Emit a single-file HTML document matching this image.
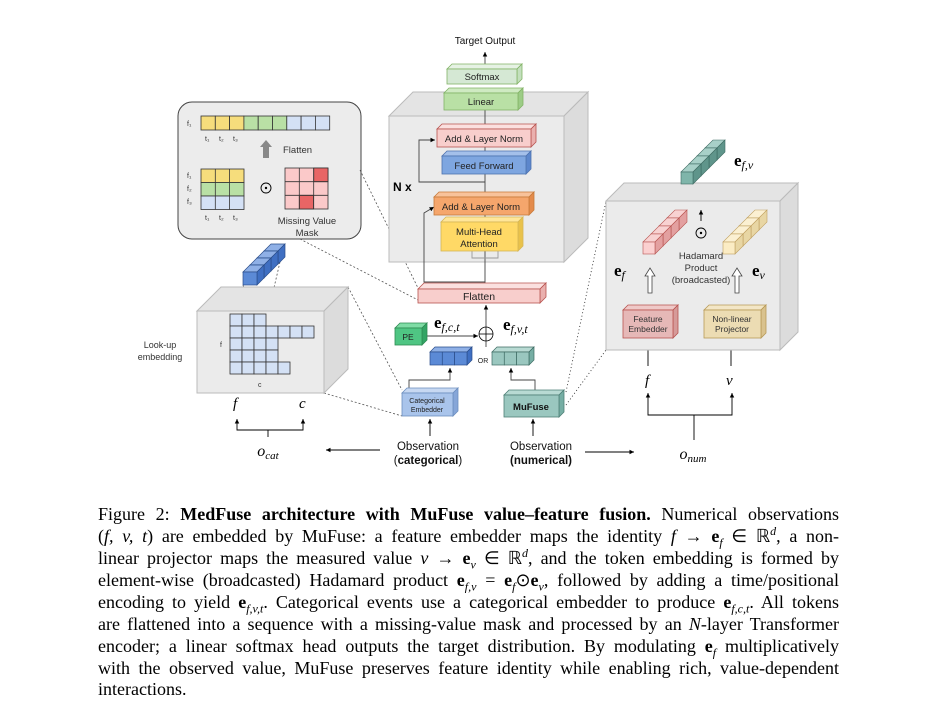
<!DOCTYPE html>
<html><head><meta charset="utf-8"><style>
body{margin:0;background:#fff;width:935px;height:716px;overflow:hidden;position:relative}
svg{position:absolute;left:0;top:0}
.cap{position:absolute;left:98px;width:741px;font-family:"Liberation Serif",serif;font-size:18px;line-height:22px;height:22px;text-align:justify;text-align-last:justify;white-space:nowrap;color:#000}
.cap.last{text-align-last:left}
.cap i{font-style:italic}
sub,sup{font-size:12px;line-height:0}
</style></head><body>
<svg width="935" height="716" viewBox="0 0 935 716" font-family="Liberation Sans, sans-serif">
<defs>
<marker id="a" markerWidth="6" markerHeight="6" refX="5" refY="3" orient="auto"><path d="M0,0.5 L5,3 L0,5.5z" fill="#000"/></marker>
</defs>
<rect x="178" y="102" width="183" height="137" rx="14" fill="#ececec" stroke="#444" stroke-width="1"/>
<g stroke="#333" stroke-width="0.8">
<rect x="201" y="116" width="14.3" height="14" fill="#f6dd7c"/><rect x="215.3" y="116" width="14.3" height="14" fill="#f6dd7c"/><rect x="229.6" y="116" width="14.3" height="14" fill="#f6dd7c"/>
<rect x="243.9" y="116" width="14.3" height="14" fill="#b9e0a5"/><rect x="258.2" y="116" width="14.3" height="14" fill="#b9e0a5"/><rect x="272.5" y="116" width="14.3" height="14" fill="#b9e0a5"/>
<rect x="286.8" y="116" width="14.3" height="14" fill="#d4e1f5"/><rect x="301.1" y="116" width="14.3" height="14" fill="#d4e1f5"/><rect x="315.4" y="116" width="14.3" height="14" fill="#d4e1f5"/>
<rect x="201" y="169" width="43" height="13.5" fill="#f6dd7c"/><rect x="201" y="182.5" width="43" height="13.5" fill="#b9e0a5"/><rect x="201" y="196" width="43" height="13.5" fill="#d4e1f5"/>
<line x1="215.3" y1="169" x2="215.3" y2="209.5"/><line x1="229.6" y1="169" x2="229.6" y2="209.5"/>
<rect x="285" y="168" width="43" height="41" fill="#fbc9c9"/>
<rect x="313.7" y="168" width="14.3" height="13.7" fill="#e86565"/><rect x="299.3" y="195.3" width="14.3" height="13.7" fill="#e86565"/>
<line x1="299.3" y1="168" x2="299.3" y2="209"/><line x1="313.7" y1="168" x2="313.7" y2="209"/><line x1="285" y1="181.7" x2="328" y2="181.7"/><line x1="285" y1="195.3" x2="328" y2="195.3"/>
</g>
<g font-size="7" fill="#333">
<text x="187" y="126">f₁</text><text x="205" y="141">t₁</text><text x="219" y="141">t₂</text><text x="233" y="141">t₃</text>
<text x="187" y="178">f₁</text><text x="187" y="191">f₂</text><text x="187" y="204">f₃</text>
<text x="205" y="220">t₁</text><text x="219" y="220">t₂</text><text x="233" y="220">t₃</text>
</g>
<path d="M263,158 V147 H260 L266,140 L272,147 H269 V158z" fill="#888"/>
<text x="283" y="153" font-size="9.5" fill="#333">Flatten</text>
<circle cx="266" cy="188" r="5" fill="none" stroke="#000" stroke-width="0.9"/><circle cx="266" cy="188" r="1.2"/>
<text x="307" y="224" font-size="9.5" fill="#333" text-anchor="middle">Missing Value</text>
<text x="307" y="236" font-size="9.5" fill="#333" text-anchor="middle">Mask</text>
<g stroke="#555" stroke-width="0.8" stroke-dasharray="2,2" fill="none">
<line x1="360" y1="170" x2="418" y2="288"/><line x1="300" y1="239" x2="418" y2="300"/>
<line x1="348" y1="287" x2="402" y2="390"/><line x1="324" y1="393" x2="402" y2="416"/>
<line x1="243" y1="285" x2="259" y2="343"/><line x1="280" y1="262" x2="261" y2="343"/>
</g>
<g stroke="#333" stroke-width="0.9" stroke-dasharray="1,2.5" fill="none">
<line x1="566" y1="392" x2="606" y2="201"/><line x1="566" y1="405" x2="606" y2="350"/>
</g>
<polygon points="197,311 221,287 348,287 324,311" fill="#e4e4e4" stroke="#bbb"/>
<polygon points="324,311 348,287 348,369 324,393" fill="#dcdcdc" stroke="#bbb"/>
<rect x="197" y="311" width="127" height="82" fill="#ebebeb" stroke="#bbb"/>
<g fill="#d4e1f5" stroke="#333" stroke-width="0.8">
<rect x="230" y="314" width="12" height="12"/><rect x="242" y="314" width="12" height="12"/><rect x="254" y="314" width="12" height="12"/>
<rect x="230" y="326" width="12" height="12"/><rect x="242" y="326" width="12" height="12"/><rect x="254" y="326" width="12" height="12"/><rect x="266" y="326" width="12" height="12"/><rect x="278" y="326" width="12" height="12"/><rect x="290" y="326" width="12" height="12"/><rect x="302" y="326" width="12" height="12"/>
<rect x="230" y="338" width="12" height="12"/><rect x="242" y="338" width="12" height="12"/><rect x="254" y="338" width="12" height="12"/><rect x="266" y="338" width="12" height="12"/>
<rect x="230" y="350" width="12" height="12"/><rect x="242" y="350" width="12" height="12"/><rect x="254" y="350" width="12" height="12"/><rect x="266" y="350" width="12" height="12"/>
<rect x="230" y="362" width="12" height="12"/><rect x="242" y="362" width="12" height="12"/><rect x="254" y="362" width="12" height="12"/><rect x="266" y="362" width="12" height="12"/><rect x="278" y="362" width="12" height="12"/>
</g>
<text x="220" y="347" font-size="7" fill="#333">f</text><text x="258" y="387" font-size="7" fill="#333">c</text>
<text x="160" y="348" font-size="9" fill="#333" text-anchor="middle">Look-up</text>
<text x="160" y="360" font-size="9" fill="#333" text-anchor="middle">embedding</text>
<g stroke="#2a4d8a" stroke-width="0.7">
<g transform="translate(21,-21)"><polygon points="243,272 250,265 264,265 257,272" fill="#8fb0e6"/><polygon points="257,272 264,265 264,278 257,285" fill="#3f6fc2"/><rect x="243" y="272" width="14" height="13" fill="#5b8ad6"/></g>
<g transform="translate(14,-14)"><polygon points="243,272 250,265 264,265 257,272" fill="#8fb0e6"/><polygon points="257,272 264,265 264,278 257,285" fill="#3f6fc2"/><rect x="243" y="272" width="14" height="13" fill="#5b8ad6"/></g>
<g transform="translate(7,-7)"><polygon points="243,272 250,265 264,265 257,272" fill="#8fb0e6"/><polygon points="257,272 264,265 264,278 257,285" fill="#3f6fc2"/><rect x="243" y="272" width="14" height="13" fill="#5b8ad6"/></g>
<g><polygon points="243,272 250,265 264,265 257,272" fill="#8fb0e6"/><polygon points="257,272 264,265 264,278 257,285" fill="#3f6fc2"/><rect x="243" y="272" width="14" height="13" fill="#5b8ad6"/></g>
</g>
<g font-family="Liberation Serif, serif" font-style="italic" font-size="15"><text x="233" y="408">f</text><text x="299" y="408">c</text></g>
<g stroke="#000" stroke-width="0.9" fill="none">
<polyline points="268,437 268,430 237,430 237,419" marker-end="url(#a)"/><polyline points="268,430 303,430 303,419" marker-end="url(#a)"/>
<line x1="380" y1="450" x2="326" y2="450" marker-end="url(#a)"/>
<line x1="585" y1="452" x2="634" y2="452" marker-end="url(#a)"/>
<polyline points="694,440 694,415 648,415 648,393" marker-end="url(#a)"/><polyline points="694,415 732,415 732,393" marker-end="url(#a)"/>
<line x1="648" y1="366" x2="648" y2="341" marker-end="url(#a)"/><line x1="731" y1="366" x2="731" y2="341" marker-end="url(#a)"/>
<line x1="430" y1="436" x2="430" y2="419" marker-end="url(#a)"/><line x1="533" y1="436" x2="533" y2="419" marker-end="url(#a)"/>
</g>
<text x="268" y="456" font-family="Liberation Serif, serif" font-style="italic" font-size="16" text-anchor="middle">o<tspan font-size="11" dy="3">cat</tspan></text>
<text x="693" y="459" font-family="Liberation Serif, serif" font-style="italic" font-size="16" text-anchor="middle">o<tspan font-size="11" dy="3">num</tspan></text>
<g font-size="11.5" text-anchor="middle" fill="#111">
<text x="428" y="450">Observation</text><text x="428" y="464">(<tspan font-weight="bold">categorical</tspan>)</text>
<text x="541" y="450">Observation</text><text x="541" y="464" font-weight="bold">(numerical)</text>
</g>
<polygon points="389,116 413,92 588,92 564,116" fill="#e4e4e4" stroke="#bbb"/>
<polygon points="564,116 588,92 588,238 564,262" fill="#dcdcdc" stroke="#bbb"/>
<rect x="389" y="116" width="175" height="146" fill="#ebebeb" stroke="#bbb"/>
<g stroke="#444" stroke-width="0.9" fill="none">
<line x1="485" y1="289" x2="485" y2="110"/>
<polyline points="485,282 424,282 424,213 434,207" marker-end="url(#a)"/>
<polyline points="485,182 419,182 419,140 435,140" marker-end="url(#a)"/>
<polyline points="472,251 472,258 498,258 498,251" stroke="#999"/>
<line x1="485" y1="69" x2="485" y2="52" marker-end="url(#a)"/>
<line x1="486" y1="347" x2="486" y2="305" marker-end="url(#a)"/>
<line x1="422" y1="336" x2="478" y2="336" marker-end="url(#a)"/>
<polyline points="409,392 409,380 450,380 450,368" marker-end="url(#a)"/>
<polyline points="535,394 535,380 511,380 511,368" marker-end="url(#a)"/>
</g>
<text x="485" y="44" font-size="10" text-anchor="middle" fill="#111">Target Output</text>
<text x="393" y="191" font-size="12" font-weight="bold">N x</text>
<g stroke-width="0.8">
<polygon points="447,69 452,64 522,64 517,69" fill="#e6f2e4" stroke="#82b366"/><polygon points="517,69 522,64 522,79 517,84" fill="#c3dfbd" stroke="#82b366"/><rect x="447" y="69" width="70" height="15" fill="#d5e8d4" stroke="#82b366"/>
<polygon points="444,93 449,88 523,88 518,93" fill="#cfeac2" stroke="#82b366"/><polygon points="518,93 523,88 523,105 518,110" fill="#9ccc86" stroke="#82b366"/><rect x="444" y="93" width="74" height="17" fill="#b9e0a5" stroke="#82b366"/>
<polygon points="437,129 442,124 536,124 531,129" fill="#fbe0df" stroke="#b85450"/><polygon points="531,129 536,124 536,142 531,147" fill="#eab0ae" stroke="#b85450"/><rect x="437" y="129" width="94" height="18" fill="#f8cecc" stroke="#b85450"/>
<polygon points="442,156 447,151 531,151 526,156" fill="#a4c0ea" stroke="#4e73b0"/><polygon points="526,156 531,151 531,169 526,174" fill="#5c87cc" stroke="#4e73b0"/><rect x="442" y="156" width="84" height="18" fill="#7ea6e0" stroke="#4e73b0"/>
<polygon points="434,197 439,192 534,192 529,197" fill="#f8c29a" stroke="#c77b3a"/><polygon points="529,197 534,192 534,210 529,215" fill="#e48b4c" stroke="#c77b3a"/><rect x="434" y="197" width="95" height="18" fill="#f5a66c" stroke="#c77b3a"/>
<polygon points="441,222 446,217 523,217 518,222" fill="#ffe699" stroke="#d6b656"/><polygon points="518,222 523,217 523,246 518,251" fill="#e9c24b" stroke="#d6b656"/><rect x="441" y="222" width="77" height="29" fill="#ffd966" stroke="#d6b656"/>
<polygon points="418,289 424,283 546,283 540,289" fill="#fbe0df" stroke="#b85450"/><polygon points="540,289 546,283 546,297 540,303" fill="#eab0ae" stroke="#b85450"/><rect x="418" y="289" width="122" height="14" fill="#f8cecc" stroke="#b85450"/>
<polygon points="395,328 400,323 427,323 422,328" fill="#7fdca5" stroke="#2d8a52"/><polygon points="422,328 427,323 427,340 422,345" fill="#33a565" stroke="#2d8a52"/><rect x="395" y="328" width="27" height="17" fill="#4fc583" stroke="#2d8a52"/>
<polygon points="402,393 407,388 458,388 453,393" fill="#c7d8f2" stroke="#6c8ebf"/><polygon points="453,393 458,388 458,411 453,416" fill="#86a6d8" stroke="#6c8ebf"/><rect x="402" y="393" width="51" height="23" fill="#a9c4eb" stroke="#6c8ebf"/>
<polygon points="504,395 509,390 564,390 559,395" fill="#b8dad3" stroke="#4f8077"/><polygon points="559,395 564,390 564,412 559,417" fill="#76aea4" stroke="#4f8077"/><rect x="504" y="395" width="55" height="22" fill="#9ac7bf" stroke="#4f8077"/>
</g>
<g font-size="9.5" text-anchor="middle" fill="#222">
<text x="482" y="80">Softmax</text><text x="481" y="105">Linear</text>
<text x="484" y="142">Add &amp; Layer Norm</text><text x="484" y="169">Feed Forward</text>
<text x="481" y="210">Add &amp; Layer Norm</text>
<text x="479" y="235">Multi-Head</text><text x="479" y="247">Attention</text>
<text x="479" y="300" font-size="10.5">Flatten</text>
<text x="408" y="340" font-size="8.5">PE</text>
<text x="427" y="403" font-size="7">Categorical</text><text x="427" y="412" font-size="7">Embedder</text>
<text x="531" y="410" font-size="9.5" font-weight="bold" fill="#111">MuFuse</text>
<text x="483" y="363" font-size="7">OR</text>
</g>
<circle cx="486" cy="334" r="7" fill="#fff" stroke="#000" stroke-width="0.8"/><line x1="479" y1="334" x2="493" y2="334" stroke="#000" stroke-width="0.8"/><line x1="486" y1="327" x2="486" y2="341" stroke="#000" stroke-width="0.8"/>
<g font-family="Liberation Serif, serif" font-size="17">
<text x="434" y="328" font-weight="bold">e<tspan font-weight="normal" font-style="italic" font-size="12" dy="3">f,c,t</tspan></text>
<text x="503" y="330" font-weight="bold">e<tspan font-weight="normal" font-style="italic" font-size="12" dy="3">f,v,t</tspan></text>
</g>
<g stroke="#2a4d8a" stroke-width="0.7">
<polygon points="430,352 435,347 472,347 467,352" fill="#8fb0e6"/><polygon points="467,352 472,347 472,360 467,365" fill="#3f6fc2"/>
<rect x="430" y="352" width="12.3" height="13" fill="#5b8ad6"/><rect x="442.3" y="352" width="12.3" height="13" fill="#5b8ad6"/><rect x="454.6" y="352" width="12.4" height="13" fill="#5b8ad6"/>
</g>
<g stroke="#3d6b63" stroke-width="0.7">
<polygon points="492,352 497,347 534,347 529,352" fill="#b8dad3"/><polygon points="529,352 534,347 534,360 529,365" fill="#76aea4"/>
<rect x="492" y="352" width="12.3" height="13" fill="#9ac7bf"/><rect x="504.3" y="352" width="12.3" height="13" fill="#9ac7bf"/><rect x="516.6" y="352" width="12.4" height="13" fill="#9ac7bf"/>
</g>
<polygon points="606,201 624,183 798,183 780,201" fill="#e4e4e4" stroke="#bbb"/>
<polygon points="780,201 798,183 798,332 780,350" fill="#dcdcdc" stroke="#bbb"/>
<rect x="606" y="201" width="174" height="149" fill="#ebebeb" stroke="#bbb"/>
<g stroke-width="0.8">
<polygon points="623,310 628,305 678,305 673,310" fill="#efc9c8" stroke="#b85450"/><polygon points="673,310 678,305 678,333 673,338" fill="#d69a99" stroke="#b85450"/><rect x="623" y="310" width="50" height="28" fill="#e6b8b7" stroke="#b85450"/>
<polygon points="704,310 709,305 766,305 761,310" fill="#f3e6c6" stroke="#b89a58"/><polygon points="761,310 766,305 766,333 761,338" fill="#d9c28e" stroke="#b89a58"/><rect x="704" y="310" width="57" height="28" fill="#ecdcb3" stroke="#b89a58"/>
</g>
<g font-size="8.5" text-anchor="middle" fill="#333">
<text x="648" y="322">Feature</text><text x="648" y="332">Embedder</text>
<text x="732" y="322">Non-linear</text><text x="732" y="332">Projector</text>
<text x="701" y="259" font-size="9.5">Hadamard</text><text x="701" y="271" font-size="9.5">Product</text><text x="701" y="283" font-size="9.5">(broadcasted)</text>
</g>
<g font-family="Liberation Serif, serif" font-style="italic" font-size="15"><text x="645" y="385">f</text><text x="726" y="385">v</text></g>
<path d="M648,293 V276 H645 L650,268 L655,276 H652 V293z" fill="#fff" stroke="#444" stroke-width="0.8"/>
<path d="M735,293 V276 H732 L737,268 L742,276 H739 V293z" fill="#fff" stroke="#444" stroke-width="0.8"/>
<line x1="701" y1="221" x2="701" y2="210" stroke="#000" stroke-width="0.9" marker-end="url(#a)"/>
<circle cx="701" cy="233" r="5" fill="none" stroke="#000" stroke-width="0.9"/><circle cx="701" cy="233" r="1.2"/>
<g font-family="Liberation Serif, serif" font-size="17" font-weight="bold">
<text x="614" y="276">e<tspan font-weight="normal" font-style="italic" font-size="12" dy="3">f</tspan></text>
<text x="752" y="276">e<tspan font-weight="normal" font-style="italic" font-size="12" dy="3">v</tspan></text>
<text x="734" y="166">e<tspan font-weight="normal" font-style="italic" font-size="12" dy="3">f,v</tspan></text>
</g>
<g stroke="#b85450" stroke-width="0.6">
<g transform="translate(24,-24)"><polygon points="643,242 651,234 663,234 655,242" fill="#f8d2d2"/><polygon points="655,242 663,234 663,246 655,254" fill="#e3a0a0"/><rect x="643" y="242" width="12" height="12" fill="#f5b8b8"/></g>
<g transform="translate(16,-16)"><polygon points="643,242 651,234 663,234 655,242" fill="#f8d2d2"/><polygon points="655,242 663,234 663,246 655,254" fill="#e3a0a0"/><rect x="643" y="242" width="12" height="12" fill="#f5b8b8"/></g>
<g transform="translate(8,-8)"><polygon points="643,242 651,234 663,234 655,242" fill="#f8d2d2"/><polygon points="655,242 663,234 663,246 655,254" fill="#e3a0a0"/><rect x="643" y="242" width="12" height="12" fill="#f5b8b8"/></g>
<g><polygon points="643,242 651,234 663,234 655,242" fill="#f8d2d2"/><polygon points="655,242 663,234 663,246 655,254" fill="#e3a0a0"/><rect x="643" y="242" width="12" height="12" fill="#fbd0d0"/></g>
</g>
<g stroke="#c0a060" stroke-width="0.6">
<g transform="translate(24,-24)"><polygon points="723,242 731,234 743,234 735,242" fill="#fbf0d2"/><polygon points="735,242 743,234 743,246 735,254" fill="#e8d6a4"/><rect x="723" y="242" width="12" height="12" fill="#f8e6b8"/></g>
<g transform="translate(16,-16)"><polygon points="723,242 731,234 743,234 735,242" fill="#fbf0d2"/><polygon points="735,242 743,234 743,246 735,254" fill="#e8d6a4"/><rect x="723" y="242" width="12" height="12" fill="#f8e6b8"/></g>
<g transform="translate(8,-8)"><polygon points="723,242 731,234 743,234 735,242" fill="#fbf0d2"/><polygon points="735,242 743,234 743,246 735,254" fill="#e8d6a4"/><rect x="723" y="242" width="12" height="12" fill="#f8e6b8"/></g>
<g><polygon points="723,242 731,234 743,234 735,242" fill="#fbf0d2"/><polygon points="735,242 743,234 743,246 735,254" fill="#e8d6a4"/><rect x="723" y="242" width="12" height="12" fill="#fbecc4"/></g>
</g>
<g stroke="#3d6b63" stroke-width="0.6">
<g transform="translate(24,-24)"><polygon points="681,172 689,164 701,164 693,172" fill="#a8d0c8"/><polygon points="693,172 701,164 701,176 693,184" fill="#5f958b"/><rect x="681" y="172" width="12" height="12" fill="#7fb5aa"/></g>
<g transform="translate(16,-16)"><polygon points="681,172 689,164 701,164 693,172" fill="#a8d0c8"/><polygon points="693,172 701,164 701,176 693,184" fill="#5f958b"/><rect x="681" y="172" width="12" height="12" fill="#7fb5aa"/></g>
<g transform="translate(8,-8)"><polygon points="681,172 689,164 701,164 693,172" fill="#a8d0c8"/><polygon points="693,172 701,164 701,176 693,184" fill="#5f958b"/><rect x="681" y="172" width="12" height="12" fill="#7fb5aa"/></g>
<g><polygon points="681,172 689,164 701,164 693,172" fill="#a8d0c8"/><polygon points="693,172 701,164 701,176 693,184" fill="#5f958b"/><rect x="681" y="172" width="12" height="12" fill="#7fb5aa"/></g>
</g>
</svg>
<div class="cap" style="top:503px">Figure 2: <b>MedFuse architecture with MuFuse value–feature fusion.</b> Numerical observations</div>
<div class="cap" style="top:525px">(<i>f, v, t</i>) are embedded by MuFuse: a feature embedder maps the identity <i>f</i> → <b>e</b><sub><i>f</i></sub> ∈ ℝ<sup><i>d</i></sup>, a non-</div>
<div class="cap" style="top:547px">linear projector maps the measured value <i>v</i> → <b>e</b><sub><i>v</i></sub> ∈ ℝ<sup><i>d</i></sup>, and the token embedding is formed by</div>
<div class="cap" style="top:569px">element-wise (broadcasted) Hadamard product <b>e</b><sub><i>f,v</i></sub> = <b>e</b><sub><i>f</i></sub>⊙<b>e</b><sub><i>v</i></sub>, followed by adding a time/positional</div>
<div class="cap" style="top:591px">encoding to yield <b>e</b><sub><i>f,v,t</i></sub>. Categorical events use a categorical embedder to produce <b>e</b><sub><i>f,c,t</i></sub>. All tokens</div>
<div class="cap" style="top:613px">are flattened into a sequence with a missing-value mask and processed by an <i>N</i>-layer Transformer</div>
<div class="cap" style="top:635px">encoder; a linear softmax head outputs the target distribution. By modulating <b>e</b><sub><i>f</i></sub> multiplicatively</div>
<div class="cap" style="top:657px">with the observed value, MuFuse preserves feature identity while enabling rich, value-dependent</div>
<div class="cap last" style="top:678px">interactions.</div>
</body></html>
